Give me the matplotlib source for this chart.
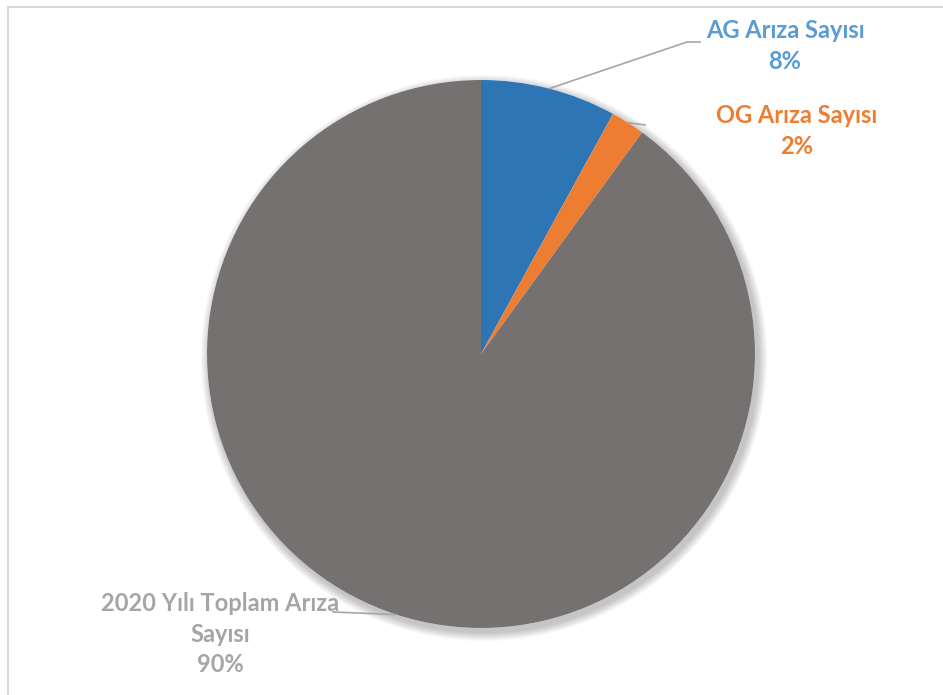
import numpy as np
import matplotlib
matplotlib.use("Agg")
import matplotlib.pyplot as plt
from matplotlib.patches import Circle
from matplotlib.lines import Line2D

# Arıza sayılarının payları (%)
labels = ["AG Arıza Sayısı", "OG Arıza Sayısı", "2020 Yılı Toplam Arıza\nSayısı"]
shares = [8, 2, 90]
slice_colors = ["#2E75B6", "#ED7D31", "#767171"]
label_colors = ["#5B9BD5", "#ED7D31", "#A5A5A5"]

W, H = 943, 695
fig = plt.figure(figsize=(W / 100, H / 100), dpi=100)
ax = fig.add_axes([0, 0, 1, 1])
ax.set_xlim(0, W)
ax.set_ylim(0, H)
ax.set_aspect("equal")
ax.axis("off")

cx, cy, r = 481, H - 354, 274

# chart frame (top and left edges)
ax.add_line(Line2D([8, W], [H - 7, H - 7], color="#D9D9D9", lw=1.5))
ax.add_line(Line2D([8, 8], [H - 7, 0], color="#D9D9D9", lw=1.5))

# soft shadow under the pie
for k in range(10):
    ax.add_patch(Circle((cx + 3, cy - 4), r + 1 + k * 0.9, color="black",
                        alpha=0.025, lw=0, zorder=1))
ax.add_patch(Circle((cx, cy), r, color="white", lw=0, zorder=1.5))

wedges, _ = ax.pie(shares, colors=slice_colors, startangle=90,
                   counterclock=False, center=(cx, cy), radius=r,
                   wedgeprops=dict(linewidth=0, zorder=2), frame=True)
ax.set_xlim(0, W)
ax.set_ylim(0, H)
ax.axis("off")

# label positions (text centre, leader end)
text_pos = [(785, H - 46), (797, H - 131), (220, H - 634)]
leader_end = [[(687, H - 42), (700, H - 42)],
              [(645, H - 125)],
              [(333, H - 612)]]

font = dict(family=["Lato", "DejaVu Sans"], weight="bold", fontsize=17)

for w, lab, val, col, tp, le in zip(wedges, labels, shares, label_colors,
                                    text_pos, leader_end):
    mid = np.deg2rad((w.theta1 + w.theta2) / 2)
    px, py = cx + r * np.cos(mid), cy + r * np.sin(mid)
    pts = [(px, py)] + le
    xs, ys = zip(*pts)
    ax.add_line(Line2D(xs, ys, color="#A6A6A6", lw=1.2, zorder=3))
    ax.text(tp[0], tp[1], f"{lab}\n{val}%", color=col, ha="center",
            va="center", linespacing=1.4, zorder=4, **font)

fig.savefig("out.png", dpi=100)
